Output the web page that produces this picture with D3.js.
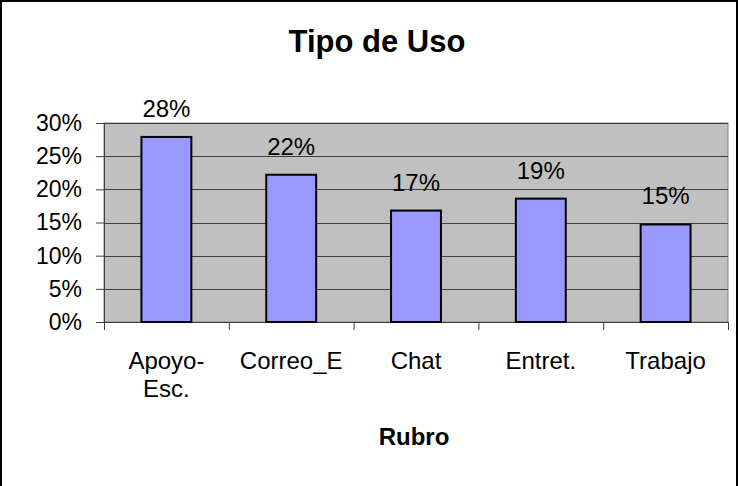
<!DOCTYPE html>
<html>
<head>
<meta charset="utf-8">
<script src="https://cdn.jsdelivr.net/npm/d3@7"></script>
<style>
  body { margin: 0; background: #fff; }
  svg { display: block; font-family: "Liberation Sans", Arial, sans-serif; }
</style>
</head>
<body>
<svg id="chart" width="738" height="486"></svg>
<script>
const categories = ["Apoyo-Esc.", "Correo_E", "Chat", "Entret.", "Trabajo"];
const values = [0.279, 0.222, 0.168, 0.186, 0.147];
const valueLabels = ["28%", "22%", "17%", "19%", "15%"];
const yTicks = [0, 0.05, 0.10, 0.15, 0.20, 0.25, 0.30];
const titleText = "Tipo de Uso";
const xTitle = "Rubro";

const svg = d3.select("#chart");
const W = 738, H = 486;
const plot = { left: 104, right: 728, top: 123, bottom: 322 };

svg.append("rect").attr("width", W).attr("height", H).attr("fill", "#fff");
svg.append("rect")
  .attr("x", 1).attr("y", 1).attr("width", W - 2).attr("height", H + 20)
  .attr("fill", "none").attr("stroke", "#000").attr("stroke-width", 2);

const x = d3.scaleBand().domain(categories)
  .range([plot.left, plot.right]).paddingInner(0.6).paddingOuter(0.3);
const xEdges = d3.scaleLinear().domain([0, categories.length]).range([plot.left, plot.right]);
const y = d3.scaleLinear().domain([0, 0.30]).range([plot.bottom, plot.top]);

// plot background
svg.append("rect")
  .attr("x", plot.left).attr("y", plot.top)
  .attr("width", plot.right - plot.left).attr("height", plot.bottom - plot.top)
  .attr("fill", "#C0C0C0").attr("stroke", "#808080").attr("stroke-width", 1);

// gridlines
svg.append("g").selectAll("line").data(yTicks.filter(d => d > 0)).join("line")
  .attr("x1", plot.left).attr("x2", plot.right)
  .attr("y1", d => Math.round(y(d)) + 0.5).attr("y2", d => Math.round(y(d)) + 0.5)
  .attr("stroke", "#404040").attr("stroke-width", 1);

// y axis
const yAxis = svg.append("g").attr("transform", `translate(${plot.left},0)`)
  .call(d3.axisLeft(y).tickValues(yTicks).tickFormat(d3.format(".0%")).tickSize(8).tickPadding(14));
yAxis.select(".domain").attr("stroke", "#404040");
yAxis.selectAll(".tick line").attr("stroke", "#404040");
yAxis.selectAll("text").attr("font-size", 23).attr("fill", "#000")
  .attr("font-family", "'Liberation Sans', Arial, sans-serif");

// x axis (ticks at category boundaries)
const xAxis = svg.append("g").attr("transform", `translate(0,${plot.bottom})`)
  .call(d3.axisBottom(xEdges).tickValues(d3.range(categories.length + 1)).tickFormat("").tickSize(8).tickSizeOuter(0));
xAxis.select(".domain").attr("stroke", "#404040");
xAxis.selectAll(".tick line").attr("stroke", "#404040");

// bars
svg.append("g").selectAll("rect").data(values).join("rect")
  .attr("x", (d, i) => x(categories[i]))
  .attr("width", x.bandwidth())
  .attr("y", d => y(d))
  .attr("height", d => y(0) - y(d))
  .attr("fill", "#9999FF").attr("stroke", "#000").attr("stroke-width", 2);

// data labels
svg.append("g").selectAll("text").data(values).join("text")
  .attr("x", (d, i) => x(categories[i]) + x.bandwidth() / 2)
  .attr("y", d => y(d) - 20)
  .attr("text-anchor", "middle").attr("font-size", 24).attr("fill", "#000")
  .text((d, i) => valueLabels[i]);

// category labels
const catG = svg.append("g").selectAll("text").data(categories).join("text")
  .attr("x", d => x(d) + x.bandwidth() / 2)
  .attr("y", 369)
  .attr("text-anchor", "middle").attr("font-size", 24).attr("fill", "#000");
catG.each(function(d) {
  const parts = d.includes("-") ? [d.slice(0, d.indexOf("-") + 1), d.slice(d.indexOf("-") + 1)] : [d];
  const t = d3.select(this);
  const cx = t.attr("x");
  parts.forEach((p, k) => {
    t.append("tspan").attr("x", cx).attr("dy", k === 0 ? 0 : 28).text(p);
  });
});

// title
svg.append("text").attr("x", 377).attr("y", 52)
  .attr("text-anchor", "middle").attr("font-size", 31).attr("font-weight", "bold")
  .text(titleText);

// x axis title
svg.append("text").attr("x", 414).attr("y", 445)
  .attr("text-anchor", "middle").attr("font-size", 24).attr("font-weight", "bold")
  .text(xTitle);
</script>
</body>
</html>
